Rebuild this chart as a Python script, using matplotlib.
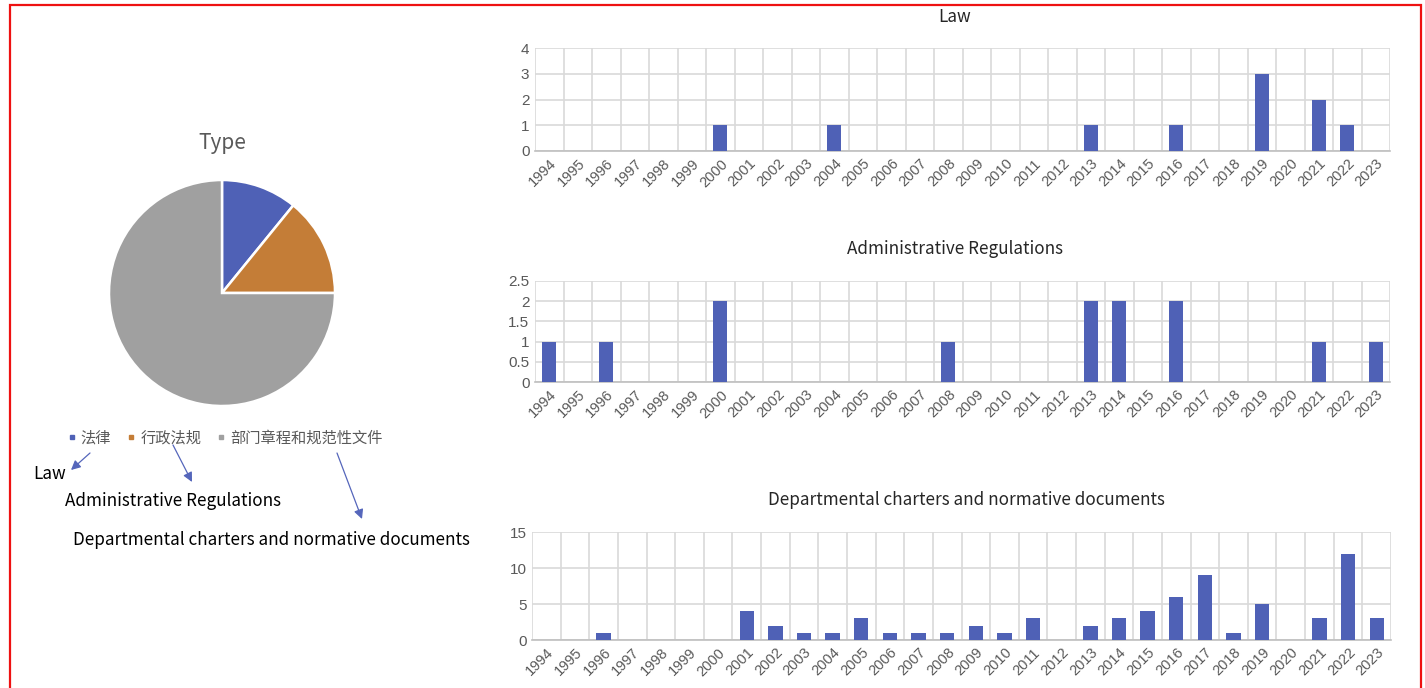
"""Policy documents by type: pie share plus yearly counts per type."""

import matplotlib

matplotlib.use("Agg")
import matplotlib.pyplot as plt
from matplotlib.lines import Line2D
from matplotlib.patches import Rectangle

W, H = 1425, 688

years = [str(y) for y in range(1994, 2024)]

law_counts = [0, 0, 0, 0, 0, 0, 1, 0, 0, 0, 1, 0, 0, 0, 0,
              0, 0, 0, 0, 1, 0, 0, 1, 0, 0, 3, 0, 2, 1, 0]
admin_counts = [1, 0, 1, 0, 0, 0, 2, 0, 0, 0, 0, 0, 0, 0, 1,
                0, 0, 0, 0, 2, 2, 0, 2, 0, 0, 0, 0, 1, 0, 1]
dept_counts = [0, 0, 1, 0, 0, 0, 0, 4, 2, 1, 1, 3, 1, 1, 1,
               2, 1, 3, 0, 2, 3, 4, 6, 9, 1, 5, 0, 3, 12, 3]

type_labels_cn = ["法律", "行政法规", "部门章程和规范性文件"]
type_labels_en = ["Law", "Administrative Regulations",
                  "Departmental charters and normative documents"]
type_totals = [sum(law_counts), sum(admin_counts), sum(dept_counts)]

BLUE = "#4f61b6"
ORANGE = "#c47d37"
GRAY = "#a0a0a0"
ARROW = "#5566bb"
TICK_GRAY = "#595959"
GRID = "#d9d9d9"

CJK = ["Noto Sans CJK SC", "DejaVu Sans"]
NARROW = ["Liberation Sans Narrow", "Liberation Sans", "DejaVu Sans"]
plt.rcParams["font.family"] = CJK


def px_rect(left, top, right, bottom):
    """Axes rectangle in figure fraction from pixel edges (top-left origin)."""
    return [left / W, 1 - bottom / H, (right - left) / W, (bottom - top) / H]


def fig_text(fig, x, y, s, **kw):
    fig.text(x / W, 1 - y / H, s, **kw)


def draw_year_bars(ax, counts, ymax, yticks):
    x = range(len(years))
    ax.bar(x, counts, width=0.5, color=BLUE, zorder=3)
    ax.set_xlim(-0.5, len(years) - 0.5)
    ax.set_ylim(0, ymax)
    ax.set_yticks(yticks)
    ax.set_yticklabels([f"{t:g}" for t in yticks], family=NARROW,
                       fontsize=11, color=TICK_GRAY)
    ax.set_xticks(list(x))
    ax.set_xticklabels(years, rotation=45, ha="right", va="top",
                       rotation_mode="anchor", family=NARROW,
                       fontsize=10.5, color=TICK_GRAY)
    ax.set_xticks([i - 0.5 for i in range(len(years) + 1)], minor=True)
    ax.grid(True, axis="y", color=GRID, linewidth=1.2, zorder=0)
    ax.grid(True, axis="x", which="minor", color=GRID, linewidth=1.2, zorder=0)
    ax.tick_params(axis="both", which="both", length=0, pad=4)
    for side in ("top", "right", "left"):
        ax.spines[side].set_visible(False)
    ax.spines["bottom"].set_color("#bfbfbf")
    ax.spines["bottom"].set_linewidth(1.2)


fig = plt.figure(figsize=(W / 100, H / 100), dpi=100)

# frame around the whole figure
fig.add_artist(Rectangle((10 / W, -0.02), 1411 / W, 1.0 - 5 / H + 0.02,
                         transform=fig.transFigure, fill=False,
                         edgecolor="#ee1111", linewidth=1.6))

# pie of document types
ax_pie = fig.add_axes(px_rect(109, 180, 335, 406))
wedges, _ = ax_pie.pie(type_totals, colors=[BLUE, ORANGE, GRAY],
                       startangle=90, counterclock=False,
                       wedgeprops=dict(edgecolor="white", linewidth=1.8))
ax_pie.set_xlim(-1.0, 1.0)
ax_pie.set_ylim(-1.0, 1.0)
ax_pie.set_aspect("equal")
fig_text(fig, 222, 143, "Type", ha="center", va="center",
         fontsize=15, color=TICK_GRAY)

handles = [Line2D([], [], marker="s", linestyle="", markersize=3.5, color=c)
           for c in (BLUE, ORANGE, GRAY)]
fig.legend(handles, type_labels_cn, ncol=3, frameon=False,
           loc="center", bbox_to_anchor=(225 / W, 1 - 438 / H),
           fontsize=11, labelcolor=TICK_GRAY, handlelength=0.6,
           handletextpad=0.3, columnspacing=1.0)

# English names with arrows from the legend entries
fig_text(fig, 33, 474, type_labels_en[0], ha="left", va="center", fontsize=12.3)
fig_text(fig, 65, 501, type_labels_en[1], ha="left", va="center", fontsize=12.3)
fig_text(fig, 73, 540, type_labels_en[2], ha="left", va="center", fontsize=12.3)

arrows = [((90, 453), (71, 470)), ((173, 445), (192, 482)), ((337, 453), (362, 519))]
for (x0, y0), (x1, y1) in arrows:
    fig.add_artist(plt.Annotation(
        "", xy=(x1 / W, 1 - y1 / H), xytext=(x0 / W, 1 - y0 / H),
        xycoords="figure fraction", textcoords="figure fraction",
        arrowprops=dict(arrowstyle="-|>", color=ARROW, lw=0.9,
                        mutation_scale=14, shrinkA=0, shrinkB=0)))

# yearly counts per type
ax_law = fig.add_axes(px_rect(535, 48, 1390, 151))
draw_year_bars(ax_law, law_counts, 4, [0, 1, 2, 3, 4])
fig_text(fig, 955, 17, type_labels_en[0], ha="center", va="center",
         fontsize=12.3, color="#262626")

ax_admin = fig.add_axes(px_rect(535, 281, 1390, 382))
draw_year_bars(ax_admin, admin_counts, 2.5, [0, 0.5, 1, 1.5, 2, 2.5])
fig_text(fig, 955, 249, type_labels_en[1], ha="center", va="center",
         fontsize=12.3, color="#262626")

ax_dept = fig.add_axes(px_rect(532, 532, 1391, 640))
draw_year_bars(ax_dept, dept_counts, 15, [0, 5, 10, 15])
fig_text(fig, 966, 500, type_labels_en[2], ha="center", va="center",
         fontsize=12.3, color="#262626")

fig.savefig("out.png", dpi=100)
